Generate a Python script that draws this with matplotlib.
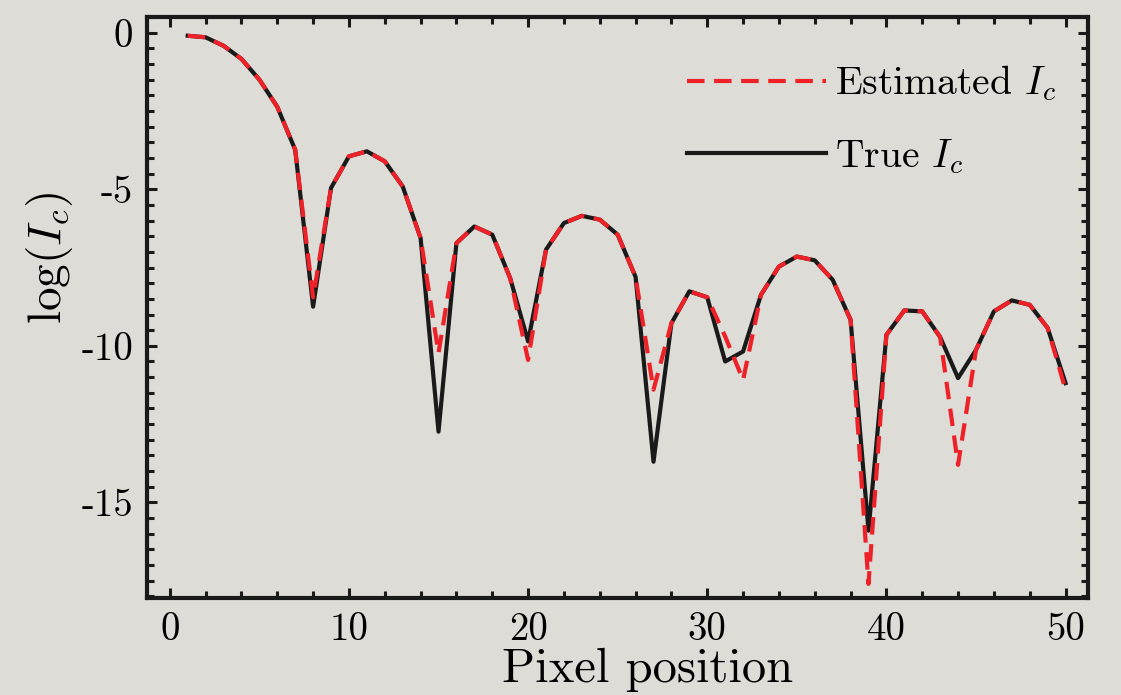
import numpy as np
import matplotlib
matplotlib.use("Agg")
import matplotlib.pyplot as plt
from matplotlib.ticker import MultipleLocator

# data
pixel = list(range(1, 51))
true_ic = [-0.1, -0.15, -0.42, -0.84, -1.5, -2.37, -3.74, -8.75, -4.96, -3.95,
           -3.79, -4.11, -4.91, -6.56, -12.74, -6.72, -6.19, -6.45, -7.84, -9.86,
           -6.93, -6.08, -5.85, -5.97, -6.45, -7.8, -13.7, -9.28, -8.26, -8.45,
           -10.5, -10.18, -8.37, -7.47, -7.15, -7.27, -7.89, -9.17, -15.9, -9.65,
           -8.87, -8.9, -9.72, -11.03, -10.13, -8.9, -8.55, -8.69, -9.43, -11.19]
est_ic = [-0.1, -0.15, -0.42, -0.84, -1.5, -2.37, -3.74, -8.45, -4.96, -3.95,
          -3.79, -4.11, -4.91, -6.56, -10.23, -6.72, -6.19, -6.45, -7.84, -10.45,
          -6.93, -6.08, -5.85, -5.97, -6.45, -7.8, -11.4, -9.28, -8.26, -8.45,
          -9.7, -11.09, -8.37, -7.47, -7.15, -7.27, -7.89, -9.17, -17.6, -9.65,
          -8.87, -8.9, -9.72, -13.8, -10.13, -8.9, -8.55, -8.69, -9.43, -11.4]

xtick_vals = [0, 10, 20, 30, 40, 50]
xtick_labels = ['0', '10', '20', '30', '40', '50']
ytick_vals = [0, -5, -10, -15]
ytick_labels = ['0', '-5', '-10', '-15']

plt.rcParams['font.family'] = ['cmr10', 'DejaVu Serif']
plt.rcParams['mathtext.fontset'] = 'cm'
plt.rcParams['axes.unicode_minus'] = False
plt.rcParams['axes.formatter.use_mathtext'] = True

bg = '#dddcd6'
fig = plt.figure(figsize=(11.21, 6.95), dpi=100, facecolor=bg)
ax = fig.add_axes([0.131, 0.1396, 0.84, 0.836], facecolor=bg)

ax.plot(pixel, true_ic, color='#1a1a1a', lw=3.0, label='True $I_c$', zorder=2)
ax.plot(pixel, est_ic, color='#ee2028', lw=3.0, ls=(0, (4.2, 2.3)),
        label='Estimated $I_c$', zorder=3)

ax.set_xlim(-1.28, 51.28)
ax.set_ylim(-18.05, 0.5)

ax.set_xticks(xtick_vals)
ax.set_xticklabels(xtick_labels)
ax.set_yticks(ytick_vals)
ax.set_yticklabels(ytick_labels)
ax.xaxis.set_minor_locator(MultipleLocator(2))
ax.yaxis.set_minor_locator(MultipleLocator(0.5))

for s in ax.spines.values():
    s.set_linewidth(3.0)
    s.set_color('#1a1a1a')
ax.tick_params(which='both', direction='in', top=True, right=True,
               width=2.2, color='#1a1a1a')
ax.tick_params(which='major', length=7, labelsize=28, pad=10)
ax.tick_params(which='minor', length=5)

ax.set_xlabel('Pixel position', fontsize=35, labelpad=0)
ax.xaxis.set_label_coords(0.532, -0.086)
ax.set_ylabel('$\\log(I_c)$', fontsize=34, labelpad=8)
ax.yaxis.set_label_coords(-0.076, 0.585)

handles, labels = ax.get_legend_handles_labels()
leg = ax.legend(handles[::-1], labels[::-1], loc='upper right',
                bbox_to_anchor=(0.966, 0.92), frameon=False, fontsize=28.5,
                handlelength=3.5, handletextpad=0.25, labelspacing=0.85,
                borderaxespad=0, borderpad=0)

fig.savefig('out.png', dpi=100, facecolor=bg)
